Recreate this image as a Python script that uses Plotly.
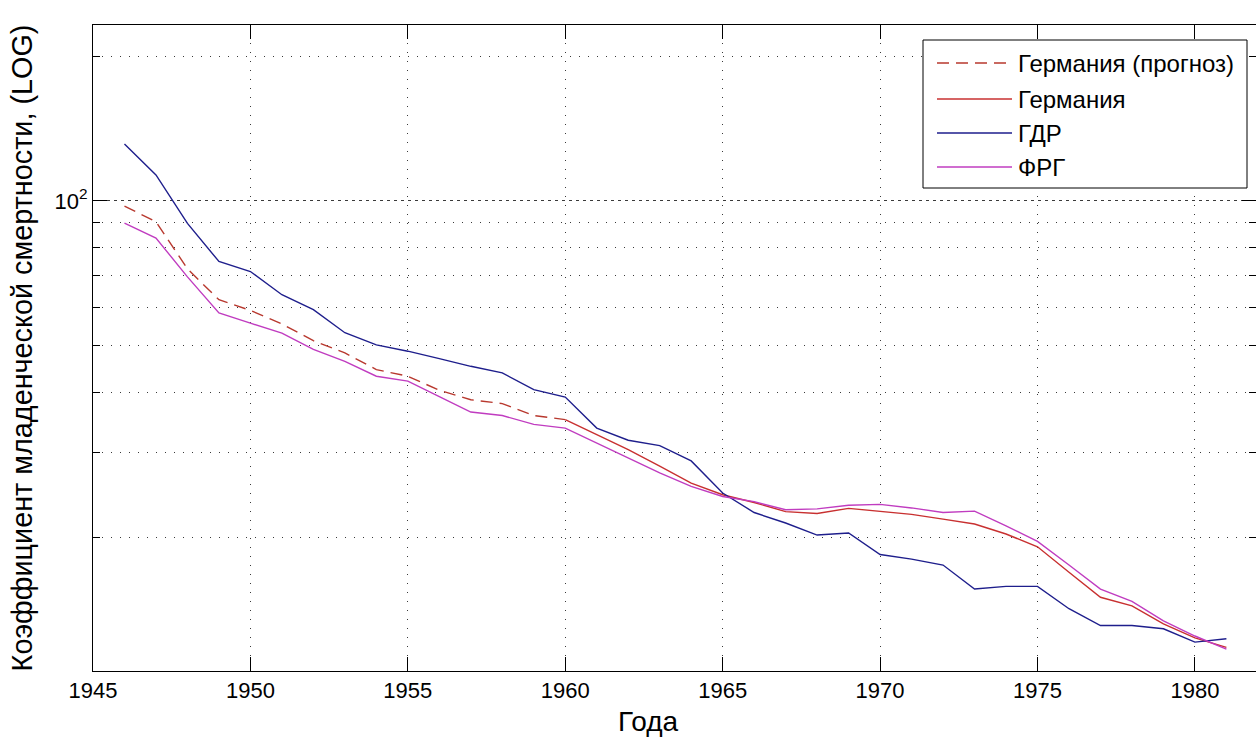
import plotly.graph_objects as go

# Infant mortality rate (per 1000 live births), log scale
years_gdr = list(range(1946, 1982))
gdr = [131.3, 113.2, 89.8, 74.8, 71.3, 63.8, 59.4, 53.2, 50.2, 48.7,
       47.0, 45.3, 43.9, 40.5, 39.1, 33.7, 31.8, 31.0, 28.8, 24.7,
       22.5, 21.4, 20.2, 20.4, 18.4, 18.0, 17.5, 15.6, 15.8, 15.8,
       14.2, 13.1, 13.1, 12.9, 12.1, 12.3]

years_frg = list(range(1946, 1982))
frg = [89.9, 83.7, 69.5, 58.5, 55.7, 53.1, 49.1, 46.4, 43.2, 42.2,
       39.2, 36.4, 35.8, 34.3, 33.7, 31.4, 29.2, 27.2, 25.5, 24.3,
       23.7, 22.8, 22.9, 23.3, 23.4, 23.0, 22.5, 22.65, 21.1, 19.6,
       17.5, 15.6, 14.7, 13.4, 12.46, 11.7]

years_forecast = list(range(1946, 1961))
germany_forecast = [97.5, 90.5, 72.2, 62.3, 59.2, 55.5, 51.2, 48.3, 44.6, 43.2,
                    40.4, 38.6, 37.9, 35.8, 35.1]

years_germany = list(range(1960, 1982))
germany = [35.1, 32.7, 30.4, 28.1, 25.9, 24.5, 23.6, 22.6, 22.4, 22.95,
           22.65, 22.3, 21.8, 21.3, 20.3, 19.1, 16.9, 15.0, 14.4, 13.2,
           12.35, 11.8]

x_ticks = [1945, 1950, 1955, 1960, 1965, 1970, 1975, 1980]
y_major = [100]
y_major_text = ["10<sup>2</sup>"]
y_minor = [20, 30, 40, 50, 60, 70, 80, 90, 200]

FONT = "Liberation Sans, Arial, sans-serif"
RED_DASH = "#b8382e"
RED = "#c83030"
BLUE = "#1e1e8c"
MAGENTA = "#c03cc0"

series = [
    ("Германия (прогноз)", years_forecast, germany_forecast, RED_DASH, "12px,7px"),
    ("Германия", years_germany, germany, RED, "solid"),
    ("ГДР", years_gdr, gdr, BLUE, "solid"),
    ("ФРГ", years_frg, frg, MAGENTA, "solid"),
]

fig = go.Figure()
for name, xs, ys, color, dash in series:
    fig.add_trace(go.Scatter(x=xs, y=ys, mode="lines", name=name,
                             line=dict(color=color, width=1.4, dash=dash),
                             showlegend=False))

# Figure and plot-area geometry (pixels)
W, H = 1256, 743
ML, MR, MT, MB = 93, 0, 25, 72
PW, PH = W - ML - MR, H - MT - MB

def px(x):
    """Pixel column -> paper x (relative to the plot area)."""
    return (x - ML) / PW

def py(y):
    """Pixel row -> paper y (relative to the plot area)."""
    return (H - MB - y) / PH

# Boxed legend in the upper-right corner
lx0, lx1, ly0, ly1 = 923, 1247, 40, 188
shapes = [dict(type="rect", xref="paper", yref="paper",
               x0=px(lx0), x1=px(lx1), y0=py(ly1), y1=py(ly0),
               line=dict(color="black", width=1), fillcolor="white", layer="above")]
annotations = []
rows = [63, 99, 133, 167]
for (name, xs, ys, color, dash), ry in zip(series, rows):
    shapes.append(dict(type="line", xref="paper", yref="paper",
                       x0=px(937), x1=px(1012), y0=py(ry), y1=py(ry),
                       line=dict(color=color, width=1.4, dash=dash), layer="above"))
    annotations.append(dict(xref="paper", yref="paper", x=px(1016), y=py(ry),
                            text=name, showarrow=False, xanchor="left", yanchor="middle",
                            font=dict(family=FONT, size=24, color="black")))

# x-axis label
annotations.append(dict(xref="paper", yref="paper", x=px(648), y=py(721),
                        text="Года", showarrow=False, xanchor="center", yanchor="middle",
                        font=dict(family=FONT, size=28, color="black")))

fig.update_layout(
    width=W, height=H,
    margin=dict(l=ML, r=MR, t=MT, b=MB),
    paper_bgcolor="white", plot_bgcolor="white",
    font=dict(family=FONT, size=22, color="black"),
    shapes=shapes, annotations=annotations,
    xaxis=dict(
        range=[1945, 1981.94], tickmode="array", tickvals=x_ticks,
        ticks="inside", ticklen=14, tickcolor="black", tickwidth=1,
        showline=True, linecolor="black", linewidth=1, mirror="ticks",
        showgrid=True, gridcolor="#3a3a3a", gridwidth=1, griddash="1px,8px",
        zeroline=False, tickfont=dict(size=22),
    ),
    yaxis=dict(
        type="log", range=[1.0228, 2.3655],
        tickmode="array", tickvals=y_major, ticktext=y_major_text,
        ticks="inside", ticklen=14, tickcolor="black", tickwidth=1,
        showline=True, linecolor="black", linewidth=1, mirror="ticks",
        showgrid=True, gridcolor="#3a3a3a", gridwidth=1, griddash="3px,4px",
        zeroline=False, tickfont=dict(size=22),
        minor=dict(tickmode="array", tickvals=y_minor, ticks="inside", ticklen=7,
                   tickcolor="black", showgrid=True, gridcolor="#3a3a3a",
                   gridwidth=1, griddash="1px,8px"),
        title=dict(text="Коэффициент младенческой смертности, (LOG)",
                   font=dict(size=28.8), standoff=13),
    ),
)

fig.write_html("out.html")
